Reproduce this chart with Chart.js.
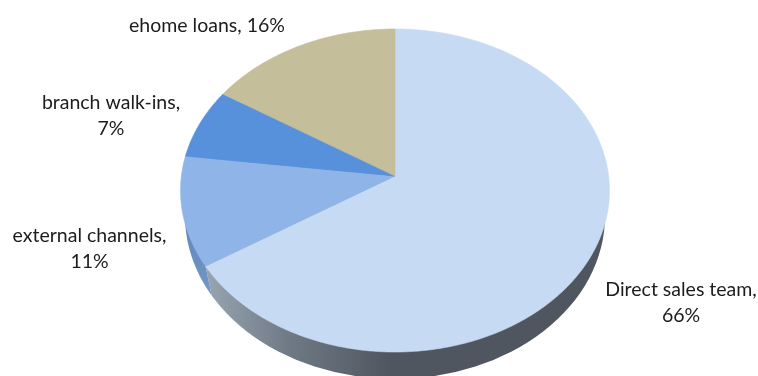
<!DOCTYPE html>
<html>
<head>
<meta charset="utf-8">
<style>
  body { margin: 0; background: #fff; }
  canvas { display: block; }
</style>
<script src="https://cdn.jsdelivr.net/npm/chart.js@4"></script>
</head>
<body>
<canvas id="salesPie" width="758" height="376"></canvas>
<script>
const channels = ["Direct sales team", "external channels", "branch walk-ins", "ehome loans"];
const shares = [66, 11, 7, 16];
const sliceColors = ["#c6daf3", "#8fb5e8", "#5891db", "#c5be9a"];

// where each label block is centred, one entry per channel
const labelLines = [
  ["Direct sales team,", "66%"],
  ["external channels,", "11%"],
  ["branch walk-ins,", "7%"],
  ["ehome loans, 16%"],
];
const labelSpots = [
  { x: 681, y: 290 },
  { x: 89.5, y: 236 },
  { x: 111, y: 103 },
  { x: 207, y: 26 },
];

// disc geometry: the hub sits above the middle of the ellipse because the far edge is foreshortened
const hub = { x: 395, y: 176 };
const spreadX = 213.6;
const spreadY = 160.2;
const tilt = 0.0898;
const wall = { x: 395, y: 216, rx: 210, ry: 163 };

// ------------------- turn a chart angle into a point on the tilted disc -------------------
function project(angle, r = 1) {
  const u = Math.cos(angle) * r;
  const v = -Math.sin(angle) * r;
  const w = 1 + tilt * v;
  return { x: hub.x + (spreadX * u) / w, y: hub.y - (spreadY * v) / w };
}

function drawWall(ctx, arcs) {
  const seam = project(arcs[0].endAngle);
  const seamLow = { x: seam.x + 6.5, y: seam.y + 31 };

  const mainFill = ctx.createLinearGradient(205, 0, 390, 0);
  mainFill.addColorStop(0, "#99a5b2");
  mainFill.addColorStop(0.45, "#6f7a86");
  mainFill.addColorStop(1, "#50565f");

  const sideFill = ctx.createLinearGradient(183, 200, 211, 290);
  sideFill.addColorStop(0, "#5f83b4");
  sideFill.addColorStop(1, "#7196c4");

  // main slice side, everything right of the seam
  ctx.save();
  ctx.beginPath();
  ctx.moveTo(seam.x, seam.y);
  ctx.lineTo(seamLow.x, seamLow.y);
  ctx.lineTo(seamLow.x, 376);
  ctx.lineTo(758, 376);
  ctx.lineTo(758, 0);
  ctx.lineTo(seam.x, 0);
  ctx.closePath();
  ctx.clip();
  ctx.fillStyle = mainFill;
  ctx.beginPath();
  ctx.ellipse(wall.x, wall.y, wall.rx, wall.ry, 0, 0, Math.PI * 2);
  ctx.fill();
  ctx.restore();

  // external channels side, left of the seam
  ctx.save();
  ctx.beginPath();
  ctx.moveTo(seam.x, seam.y);
  ctx.lineTo(seamLow.x, seamLow.y);
  ctx.lineTo(seamLow.x, 376);
  ctx.lineTo(0, 376);
  ctx.lineTo(0, 0);
  ctx.lineTo(seam.x, 0);
  ctx.closePath();
  ctx.clip();
  ctx.fillStyle = sideFill;
  ctx.beginPath();
  ctx.ellipse(wall.x, wall.y, wall.rx, wall.ry, 0, 0, Math.PI * 2);
  ctx.fill();
  ctx.restore();
}

function drawSlice(ctx, arc, color) {
  const steps = Math.ceil((arc.endAngle - arc.startAngle) / 0.01);
  ctx.beginPath();
  ctx.moveTo(hub.x, hub.y);
  for (let i = 0; i <= steps; i++) {
    const p = project(arc.startAngle + ((arc.endAngle - arc.startAngle) * i) / steps);
    ctx.lineTo(p.x, p.y);
  }
  ctx.closePath();
  ctx.fillStyle = color;
  ctx.strokeStyle = color;
  ctx.lineWidth = 0.6;
  ctx.fill();
  ctx.stroke();
}

// replaces the flat arc drawing with the extruded disc, slice angles still come from the controller
const tiltedPie = {
  id: "tiltedPie",
  beforeDatasetDraw(chart, args) {
    const ctx = chart.ctx;
    const arcs = args.meta.data.map((el) => el.getProps(["startAngle", "endAngle"], true));
    ctx.save();
    drawWall(ctx, arcs);
    arcs.forEach((arc, i) => drawSlice(ctx, arc, sliceColors[i]));
    ctx.restore();
    return false;
  },
  afterDraw(chart) {
    const ctx = chart.ctx;
    ctx.save();
    ctx.font = '19.5px Lato, "Open Sans", sans-serif';
    ctx.fillStyle = "#1c1c1c";
    ctx.textAlign = "center";
    ctx.textBaseline = "middle";
    labelLines.forEach((lines, i) => {
      lines.forEach((line, n) => {
        ctx.fillText(line, labelSpots[i].x, labelSpots[i].y + n * 26);
      });
    });
    ctx.restore();
  },
};

new Chart(document.querySelector("#salesPie").getContext("2d"), {
  type: "pie",
  data: {
    labels: channels,
    datasets: [{ data: shares, backgroundColor: sliceColors }],
  },
  options: {
    responsive: false,
    animation: false,
    plugins: {
      legend: { display: false },
      tooltip: { enabled: false },
    },
  },
  plugins: [tiltedPie],
});
</script>
</body>
</html>
